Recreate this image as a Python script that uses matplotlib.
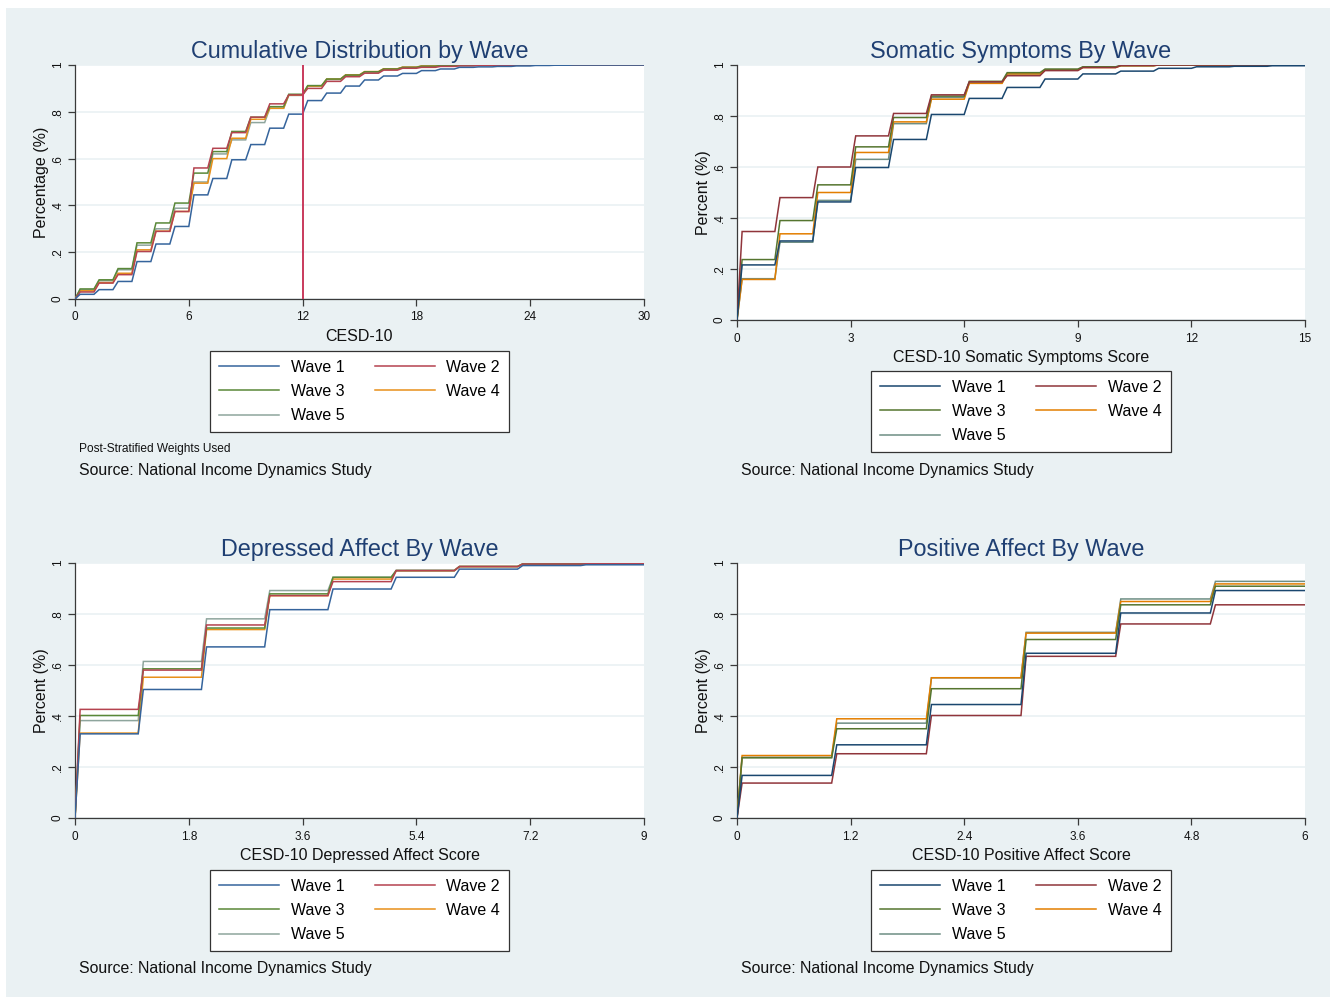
import matplotlib
matplotlib.use("Agg")
import matplotlib.pyplot as plt
from matplotlib.patches import Rectangle
from matplotlib.lines import Line2D

plt.rcParams['font.family'] = ['Liberation Sans', 'DejaVu Sans']

W, H = 1335, 999

wave_names = ["Wave 1", "Wave 2", "Wave 3", "Wave 4", "Wave 5"]

# ---- Panel 1: CESD-10 total (scores 0..29, axis to 30)
cesd_w1 = [0.02, 0.04, 0.075, 0.16, 0.235, 0.31, 0.445, 0.515, 0.595, 0.66, 0.73, 0.79, 0.848, 0.88, 0.91,
           0.936, 0.953, 0.964, 0.976, 0.983, 0.99, 0.992, 0.994, 0.996, 0.998, 0.999, 1, 1, 1, 1]
cesd_w2 = [0.03, 0.068, 0.104, 0.203, 0.289, 0.374, 0.56, 0.644, 0.711, 0.777, 0.834, 0.872, 0.90, 0.93, 0.95,
           0.965, 0.978, 0.986, 0.99, 0.994, 0.996, 0.998, 0.999, 1, 1, 1, 1, 1, 1, 1]
cesd_w3 = [0.043, 0.082, 0.13, 0.24, 0.325, 0.41, 0.538, 0.63, 0.716, 0.777, 0.822, 0.875, 0.912, 0.94, 0.957,
           0.971, 0.983, 0.99, 0.995, 0.998, 0.999, 1, 1, 1, 1, 1, 1, 1, 1, 1]
cesd_w4 = [0.035, 0.07, 0.11, 0.21, 0.29, 0.374, 0.495, 0.60, 0.687, 0.768, 0.815, 0.872, 0.91, 0.94, 0.958,
           0.972, 0.984, 0.991, 0.996, 0.998, 0.999, 1, 1, 1, 1, 1, 1, 1, 1, 1]
cesd_w5 = [0.04, 0.078, 0.125, 0.23, 0.30, 0.388, 0.50, 0.62, 0.68, 0.754, 0.815, 0.87, 0.91, 0.938, 0.956,
           0.97, 0.982, 0.99, 0.995, 0.998, 0.999, 1, 1, 1, 1, 1, 1, 1, 1, 1]
cesd_ticks = [0, 6, 12, 18, 24, 30]
cesd_cutoff = 12

# ---- Panel 2: Somatic symptoms (scores 0..14, axis to 15)
som_w1 = [0.216, 0.31, 0.463, 0.598, 0.708, 0.806, 0.869, 0.912, 0.945, 0.965, 0.976, 0.987, 0.993, 0.995, 0.997]
som_w2 = [0.347, 0.48, 0.60, 0.722, 0.81, 0.883, 0.934, 0.958, 0.978, 0.99, 0.998, 1, 1, 1, 1]
som_w3 = [0.237, 0.39, 0.53, 0.679, 0.794, 0.878, 0.936, 0.97, 0.984, 0.993, 0.998, 1, 1, 1, 1]
som_w4 = [0.159, 0.338, 0.50, 0.657, 0.777, 0.866, 0.928, 0.965, 0.98, 0.99, 0.997, 1, 1, 1, 1]
som_w5 = [0.162, 0.305, 0.469, 0.63, 0.77, 0.873, 0.93, 0.965, 0.982, 0.992, 0.998, 1, 1, 1, 1]
som_ticks = [0, 3, 6, 9, 12, 15]

# ---- Panel 3: Depressed affect (scores 0..8, axis to 9)
dep_w1 = [0.33, 0.504, 0.671, 0.817, 0.898, 0.944, 0.976, 0.99, 0.993]
dep_w2 = [0.426, 0.58, 0.757, 0.872, 0.927, 0.97, 0.986, 0.996, 0.997]
dep_w3 = [0.402, 0.585, 0.745, 0.879, 0.944, 0.97, 0.986, 0.996, 0.997]
dep_w4 = [0.333, 0.552, 0.739, 0.872, 0.937, 0.97, 0.986, 0.996, 0.997]
dep_w5 = [0.382, 0.614, 0.781, 0.892, 0.944, 0.972, 0.987, 0.997, 0.998]
dep_ticks = [0, 1.8, 3.6, 5.4, 7.2, 9]

# ---- Panel 4: Positive affect (scores 0..5, axis to 6)
pos_w1 = [0.167, 0.287, 0.445, 0.646, 0.804, 0.892]
pos_w2 = [0.137, 0.252, 0.402, 0.634, 0.761, 0.836]
pos_w3 = [0.236, 0.35, 0.507, 0.70, 0.836, 0.909]
pos_w4 = [0.245, 0.389, 0.55, 0.725, 0.849, 0.918]
pos_w5 = [0.238, 0.372, 0.55, 0.728, 0.859, 0.928]
pos_ticks = [0, 1.2, 2.4, 3.6, 4.8, 6]

y_ticks = [0, 0.2, 0.4, 0.6, 0.8, 1]
y_ticklabels = ["0", ".2", ".4", ".6", ".8", "1"]

colors_bright = ['#35649c', '#b5434f', '#5a8838', '#e8901a', '#8ea59d']
colors_dark = ['#1a476f', '#90353b', '#55752f', '#e37e00', '#6e8e84']

BG = '#eaf1f3'
TITLE_C = '#1f3f72'


def step_xy(vals, xmax):
    w = 0.009 * xmax
    xs, ys = [0.0], [0.0]
    prev = 0.0
    for k, v in enumerate(vals):
        xs += [k, k + w]
        ys += [prev, v]
        prev = v
    xs.append(xmax)
    ys.append(prev)
    return xs, ys


fig = plt.figure(figsize=(W / 100, H / 100), dpi=100)
fig.patch.set_facecolor('white')
fig.patches.append(Rectangle((6 / W, 2 / H), (1330 - 6) / W, (991 - 2) / H,
                             transform=fig.transFigure, facecolor=BG, edgecolor='none', zorder=-10))


def fx(px):
    return px / W


def fy(py):
    return 1 - py / H


def make_panel(rect_px, series, xmax, xticks, title, xlabel, ylabel, colors,
               legend_center_px, source_px, cutoff=None, note=None):
    l, t, r, b = rect_px
    ax = fig.add_axes([fx(l), fy(b), (r - l) / W, (b - t) / H])
    ax.set_facecolor('white')
    for i, vals in enumerate(series):
        xs, ys = step_xy(vals, xmax)
        ax.plot(xs, ys, color=colors[i], lw=1.1, solid_joinstyle='miter', zorder=3 + (4 - i) * 0.01)
    if cutoff is not None:
        ax.axvline(cutoff, color='#c93a5c', lw=1.4, zorder=5)
    ax.set_xlim(0, xmax)
    ax.set_ylim(0, 1)
    ax.set_xticks(xticks)
    ax.set_xticklabels([f"{v:g}" for v in xticks])
    ax.set_yticks(y_ticks)
    ax.set_yticklabels(y_ticklabels, rotation=90, va='center')
    ax.yaxis.grid(True, color=BG, lw=1.2, zorder=0)
    ax.set_axisbelow(True)
    for s in ['top', 'right']:
        ax.spines[s].set_visible(False)
    for s in ['left', 'bottom']:
        ax.spines[s].set_color('#3a3a3a')
        ax.spines[s].set_linewidth(0.9)
    ax.tick_params(axis='both', direction='out', length=5, width=0.9, color='#3a3a3a',
                   labelsize=8.5, labelcolor='#111111', pad=3)
    ax.tick_params(axis='x', pad=4)
    ax.set_title(title, fontsize=16.8, color=TITLE_C, pad=5)
    ax.set_xlabel(xlabel, fontsize=11.5, color='#111111', labelpad=4)
    ax.set_ylabel(ylabel, fontsize=11.5, color='#111111', labelpad=2)
    handles = [Line2D([], [], color=c, lw=1.1) for c in colors]
    order = [0, 2, 4, 1, 3]
    cx, ty = legend_center_px
    leg = fig.legend([handles[i] for i in order], [wave_names[i] for i in order], ncol=2,
                     loc='upper center', bbox_to_anchor=(fx(cx), fy(ty)), fontsize=11.5,
                     frameon=True, fancybox=False, edgecolor='#333333', framealpha=1,
                     handlelength=3.75, handletextpad=0.75, columnspacing=1.9,
                     labelspacing=0.58, borderpad=0.55, borderaxespad=0)
    leg.get_frame().set_linewidth(0.9)
    sx, sy = source_px
    fig.text(fx(sx), fy(sy), "Source: National Income Dynamics Study", fontsize=11.4,
             color='#111111', ha='left', va='center')
    if note is not None:
        fig.text(fx(sx), fy(sy - 21), note, fontsize=8.6, color='#111111', ha='left', va='center')
    return ax


make_panel((75, 65, 644, 299), [cesd_w1, cesd_w2, cesd_w3, cesd_w4, cesd_w5], 30, cesd_ticks,
           "Cumulative Distribution by Wave", "CESD-10", "Percentage (%)", colors_bright,
           (359.5, 351), (79, 470), cutoff=cesd_cutoff, note="Post-Stratified Weights Used")
make_panel((737, 65, 1305, 320), [som_w1, som_w2, som_w3, som_w4, som_w5], 15, som_ticks,
           "Somatic Symptoms By Wave", "CESD-10 Somatic Symptoms Score", "Percent (%)", colors_dark,
           (1021, 371), (741, 470))
make_panel((75, 563, 644, 818), [dep_w1, dep_w2, dep_w3, dep_w4, dep_w5], 9, dep_ticks,
           "Depressed Affect By Wave", "CESD-10 Depressed Affect Score", "Percent (%)", colors_bright,
           (359.5, 870), (79, 968))
make_panel((737, 563, 1305, 818), [pos_w1, pos_w2, pos_w3, pos_w4, pos_w5], 6, pos_ticks,
           "Positive Affect By Wave", "CESD-10 Positive Affect Score", "Percent (%)", colors_dark,
           (1021, 870), (741, 968))

fig.savefig("out.png", dpi=100, facecolor=fig.get_facecolor())
